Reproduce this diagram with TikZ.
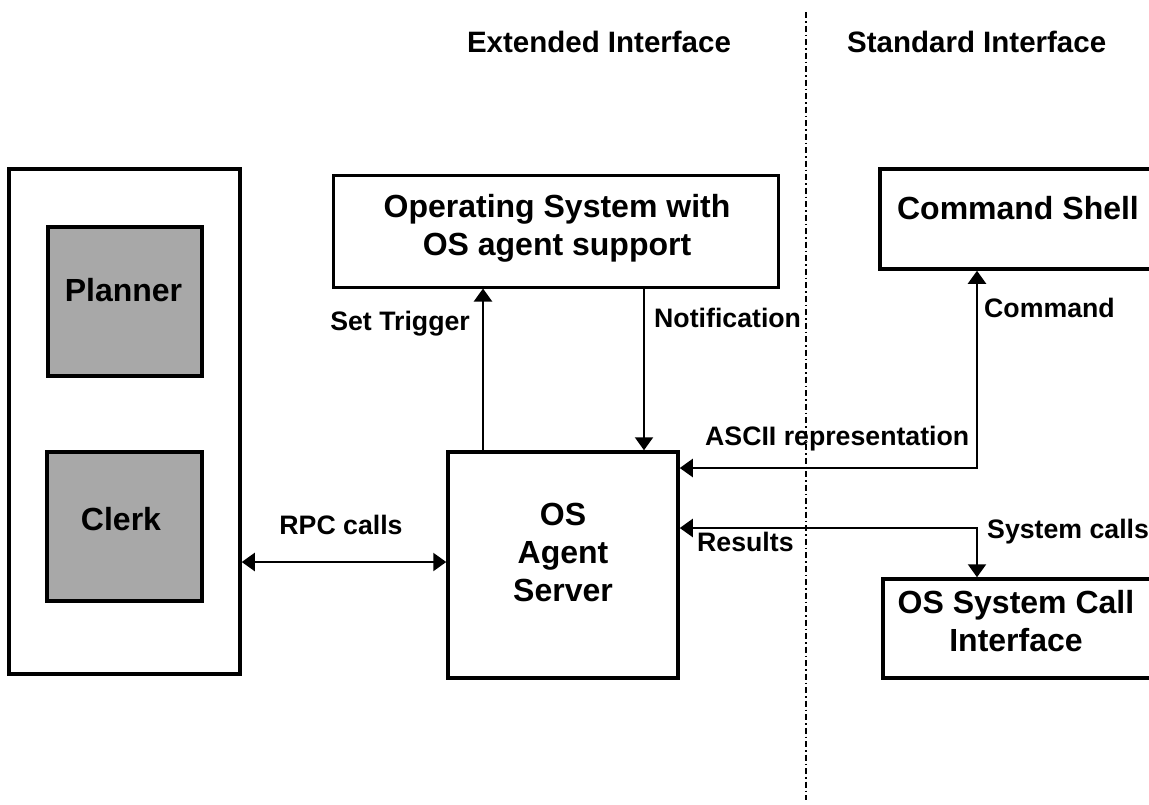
\documentclass[tikz,border=0pt]{standalone}
\usepackage{fontspec}
\setmainfont{Liberation Sans}
\usetikzlibrary{arrows.meta}
% strut: makes the centre of every text line sit at the middle of its capitals
\newcommand\bstrut{\rule[-0.22em]{0pt}{1.156em}}

\begin{document}
\begin{tikzpicture}[x=1pt,y=-1pt,
  box/.style={draw, line width=3.5pt, inner sep=0pt, fill=white},
  dark/.style={box, fill=gray!68},
  boxtext/.style={font=\bfseries\fontsize{32}{38}\selectfont, align=center, inner sep=0pt, execute at begin node=\bstrut},
  lbl/.style={font=\bfseries\fontsize{26.7}{32}\selectfont, inner sep=0pt, execute at begin node=\bstrut},
  head/.style={font=\bfseries\fontsize{29.5}{36}\selectfont, inner sep=0pt, execute at begin node=\bstrut},
  tip/.tip={Triangle[length=13pt,width=18pt]},
  conn/.style={line width=2.2pt, -tip},
  dconn/.style={line width=2.2pt, tip-tip},
  divider/.style={line width=2pt, dash pattern=on 6pt off 3pt on 1.5pt off 3pt}]

\useasboundingbox (0,0) rectangle (1149,804);
\fill[white] (0,0) rectangle (1149,804);
\clip (0,0) rectangle (1149,804);

% divider between the two interfaces
\coordinate (divtop) at (806,12);
\coordinate (divbot) at (806,800);
\draw[divider] (divtop) -- (divbot);

% headings
\node[head] (ext) at (599,42) {Extended Interface};
\node[head, anchor=west] (std) at (847,42) {Standard Interface};

% boxes
\node[box, minimum width=231pt, minimum height=505pt] (outer) at (124.5,421.5) {};
\node[dark, minimum width=154pt, minimum height=149pt] (planner) at (125,301.5) {};
\node[dark, minimum width=155pt, minimum height=149pt] (clerk) at (124.5,526.5) {};
\node[box, line width=3pt, minimum width=445pt, minimum height=112pt] (os) at (555.5,231) {};
\node[box, minimum width=230pt, minimum height=226pt] (agent) at (563,565) {};
\node[box, minimum width=282pt, minimum height=100pt] (cmd) at (1021,219) {};
\node[box, minimum width=272pt, minimum height=99pt] (sys) at (1019,628.5) {};

% box texts
\node[boxtext] (plannertxt) at (123.5,290) {Planner};
\node[boxtext] (clerktxt) at (121,519) {Clerk};
\node[boxtext] (ostxt) at (557,228.5) {Operating System with\\\bstrut OS agent support};
\node[boxtext] (agenttxt) at (563,556) {OS\\\bstrut Agent\\\bstrut Server};
\node[boxtext] (cmdtxt) at (1018,208) {Command Shell};
\node[boxtext] (systxt) at (1016,624.5) {OS System Call\\\bstrut Interface};

% connector positions
\coordinate (trig) at (483,0);
\coordinate (notif) at (644,0);
\coordinate (shellx) at (977,0);
\coordinate (rpcy) at (0,562);
\coordinate (asciiy) at (0,468);
\coordinate (resy) at (0,528);

% connectors
\draw[dconn] (outer.east |- rpcy) -- (agent.west |- rpcy);
\draw[conn] (agent.north -| trig) -- (os.south -| trig);
\draw[conn] (os.south -| notif) -- (agent.north -| notif);
\draw[dconn] (agent.east |- asciiy) -| (cmd.south -| shellx);
\draw[dconn] (agent.east |- resy) -| (sys.north -| shellx);

% connector labels
\node[lbl, anchor=east] (settrig) at (470,321) {Set Trigger};
\node[lbl, anchor=west] (notiflbl) at (654,318) {Notification};
\node[lbl] (rpclbl) at (341,525) {RPC calls};
\node[lbl, anchor=west] (cmdlbl) at (984,308) {Command};
\node[lbl, anchor=west] (asciilbl) at (705,436) {ASCII representation};
\node[lbl, anchor=west] (reslbl) at (697,542) {Results};
\node[lbl, anchor=west] (syslbl) at (987,528.5) {System calls};
\end{tikzpicture}
\end{document}
